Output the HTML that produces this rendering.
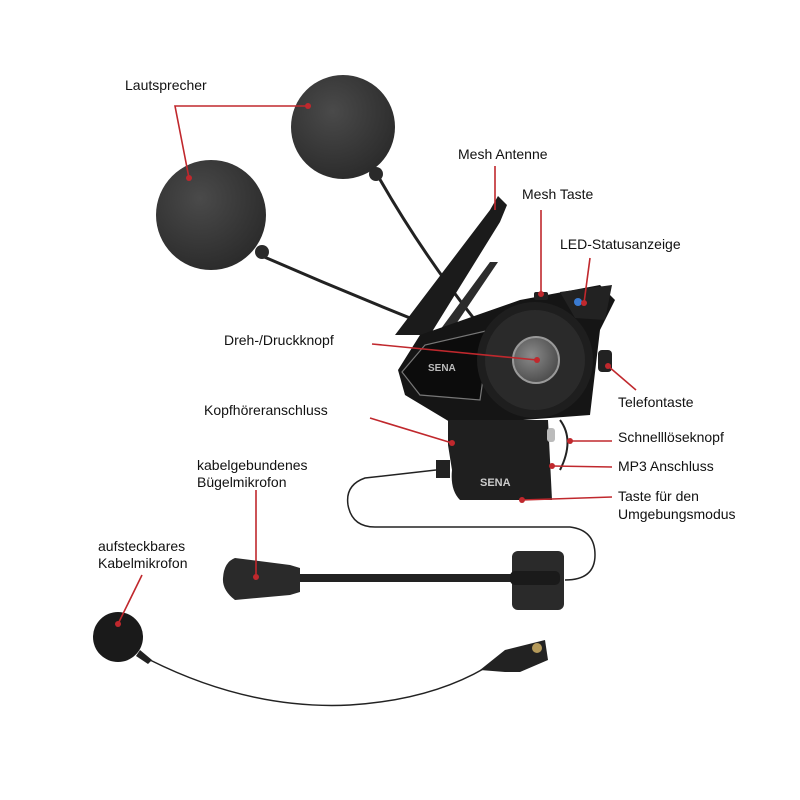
<!DOCTYPE html>
<html><head><meta charset="utf-8"><style>
html,body{margin:0;padding:0;background:#fff}
svg{display:block}
text{font-family:"Liberation Sans",sans-serif;font-size:14px;fill:#111}
</style></head><body>
<svg width="800" height="800" viewBox="0 0 800 800">
<defs>
<radialGradient id="foam" cx="40%" cy="35%" r="70%"><stop offset="0" stop-color="#4a4a4a"/><stop offset="1" stop-color="#2a2a2a"/></radialGradient>
<radialGradient id="knob" cx="40%" cy="40%" r="65%"><stop offset="0" stop-color="#8a8a8a"/><stop offset="1" stop-color="#4a4a4a"/></radialGradient>
</defs>
<!-- speaker cables -->
<path d="M378,176 Q420,250 475,320" stroke="#222" stroke-width="3" fill="none"/>
<path d="M262,256 Q340,290 420,322" stroke="#222" stroke-width="3" fill="none"/>
<!-- speakers -->
<circle cx="343" cy="127" r="52" fill="url(#foam)"/>
<circle cx="376" cy="174" r="7" fill="#2a2a2a"/>
<circle cx="211" cy="215" r="55" fill="url(#foam)"/>
<circle cx="262" cy="252" r="7" fill="#2a2a2a"/>
<!-- antenna boom -->
<path d="M395,335 L490,210 L498,196 L507,205 L500,222 L430,335 Z" fill="#1b1b1b"/>
<path d="M440,330 L490,262 L498,262 L452,330Z" fill="#2c2c2c"/>
<!-- main unit -->
<path d="M398,370 L420,335 L520,300 L600,285 L615,300 L600,330 L590,415 L455,425 L405,395 Z" fill="#151515"/>
<path d="M402,372 L425,345 L490,330 L480,400 L420,395 Z" fill="#0c0c0c" stroke="#777" stroke-width="1.2"/>
<text x="428" y="371" style="font-size:10px;fill:#bbb;font-weight:bold">SENA</text>
<path d="M560,292 L612,285 L605,320 L575,318Z" fill="#222"/>
<circle cx="578" cy="302" r="4" fill="#3a7ad0"/>
<rect x="534" y="292" width="14" height="8" rx="2" fill="#222"/>
<circle cx="535" cy="360" r="58" fill="#1e1e1e"/>
<circle cx="535" cy="360" r="50" fill="#2a2a2a"/>
<circle cx="536" cy="360" r="23" fill="url(#knob)" stroke="#999" stroke-width="2"/>
<rect x="598" y="350" width="14" height="22" rx="4" fill="#222"/>
<!-- clamp -->
<path d="M448,420 L548,420 L552,500 L460,500 Q450,490 452,470 L448,445Z" fill="#1f1f1f"/>
<text x="480" y="486" style="font-size:11px;fill:#ccc;font-weight:bold">SENA</text>
<rect x="436" y="460" width="14" height="18" fill="#222"/>
<rect x="547" y="428" width="8" height="14" rx="3" fill="#bbb"/>
<path d="M560,420 Q575,440 560,470" stroke="#222" stroke-width="2" fill="none"/>
<!-- wire loop -->
<path d="M436,470 L365,478 Q345,485 348,505 Q352,527 375,527 L570,527 Q595,530 595,555 Q595,580 565,580" stroke="#222" stroke-width="1.5" fill="none"/>
<!-- boom mic -->
<rect x="295" y="574" width="225" height="8" fill="#222"/>
<path d="M235,558 L290,565 L300,568 L300,592 L290,595 L235,600 Q222,590 223,578 Q224,562 235,558Z" fill="#2a2a2a"/>
<rect x="512" y="551" width="52" height="59" rx="6" fill="#2a2a2a"/>
<rect x="510" y="571" width="50" height="14" rx="5" fill="#1a1a1a"/>
<!-- cable mic -->
<path d="M150,660 Q250,710 350,705 Q430,700 485,668" stroke="#222" stroke-width="1.5" fill="none"/>
<circle cx="118" cy="637" r="25" fill="#1a1a1a"/>
<path d="M140,650 L152,660 L148,664 L136,656Z" fill="#222"/>
<path d="M480,670 L505,650 L525,645 L545,640 L548,660 L520,672 L505,672Z" fill="#222"/>
<circle cx="537" cy="648" r="5" fill="#b59a5a"/>
<!-- red callouts -->
<g stroke="#c0282d" stroke-width="1.6" fill="none">
<polyline points="308,106 175,106 189,178"/>
<line x1="495" y1="166" x2="495" y2="210"/>
<line x1="541" y1="210" x2="541" y2="294"/>
<line x1="590" y1="258" x2="584" y2="303"/>
<line x1="372" y1="344" x2="537" y2="360"/>
<line x1="636" y1="390" x2="608" y2="366"/>
<line x1="370" y1="418" x2="452" y2="443"/>
<line x1="612" y1="441" x2="570" y2="441"/>
<line x1="612" y1="467" x2="552" y2="466"/>
<line x1="612" y1="497" x2="522" y2="500"/>
<line x1="256" y1="490" x2="256" y2="577"/>
<line x1="142" y1="575" x2="118" y2="624"/>
</g>
<g fill="#c0282d">
<circle cx="308" cy="106" r="3"/><circle cx="189" cy="178" r="3"/>
<circle cx="541" cy="294" r="3"/><circle cx="584" cy="303" r="3"/>
<circle cx="537" cy="360" r="3"/><circle cx="608" cy="366" r="3"/>
<circle cx="452" cy="443" r="3"/><circle cx="570" cy="441" r="3"/>
<circle cx="552" cy="466" r="3"/><circle cx="522" cy="500" r="3"/>
<circle cx="256" cy="577" r="3"/><circle cx="118" cy="624" r="3"/>
</g>
<!-- labels -->
<text x="125" y="90">Lautsprecher</text>
<text x="458" y="159">Mesh Antenne</text>
<text x="522" y="199">Mesh Taste</text>
<text x="560" y="249">LED-Statusanzeige</text>
<text x="224" y="345">Dreh-/Druckknopf</text>
<text x="618" y="407">Telefontaste</text>
<text x="204" y="415">Kopfhöreranschluss</text>
<text x="618" y="442">Schnelllöseknopf</text>
<text x="618" y="471">MP3 Anschluss</text>
<text x="618" y="501">Taste für den</text>
<text x="618" y="519">Umgebungsmodus</text>
<text x="197" y="470">kabelgebundenes</text>
<text x="197" y="487">Bügelmikrofon</text>
<text x="98" y="551">aufsteckbares</text>
<text x="98" y="568">Kabelmikrofon</text>
</svg>
</body></html>
